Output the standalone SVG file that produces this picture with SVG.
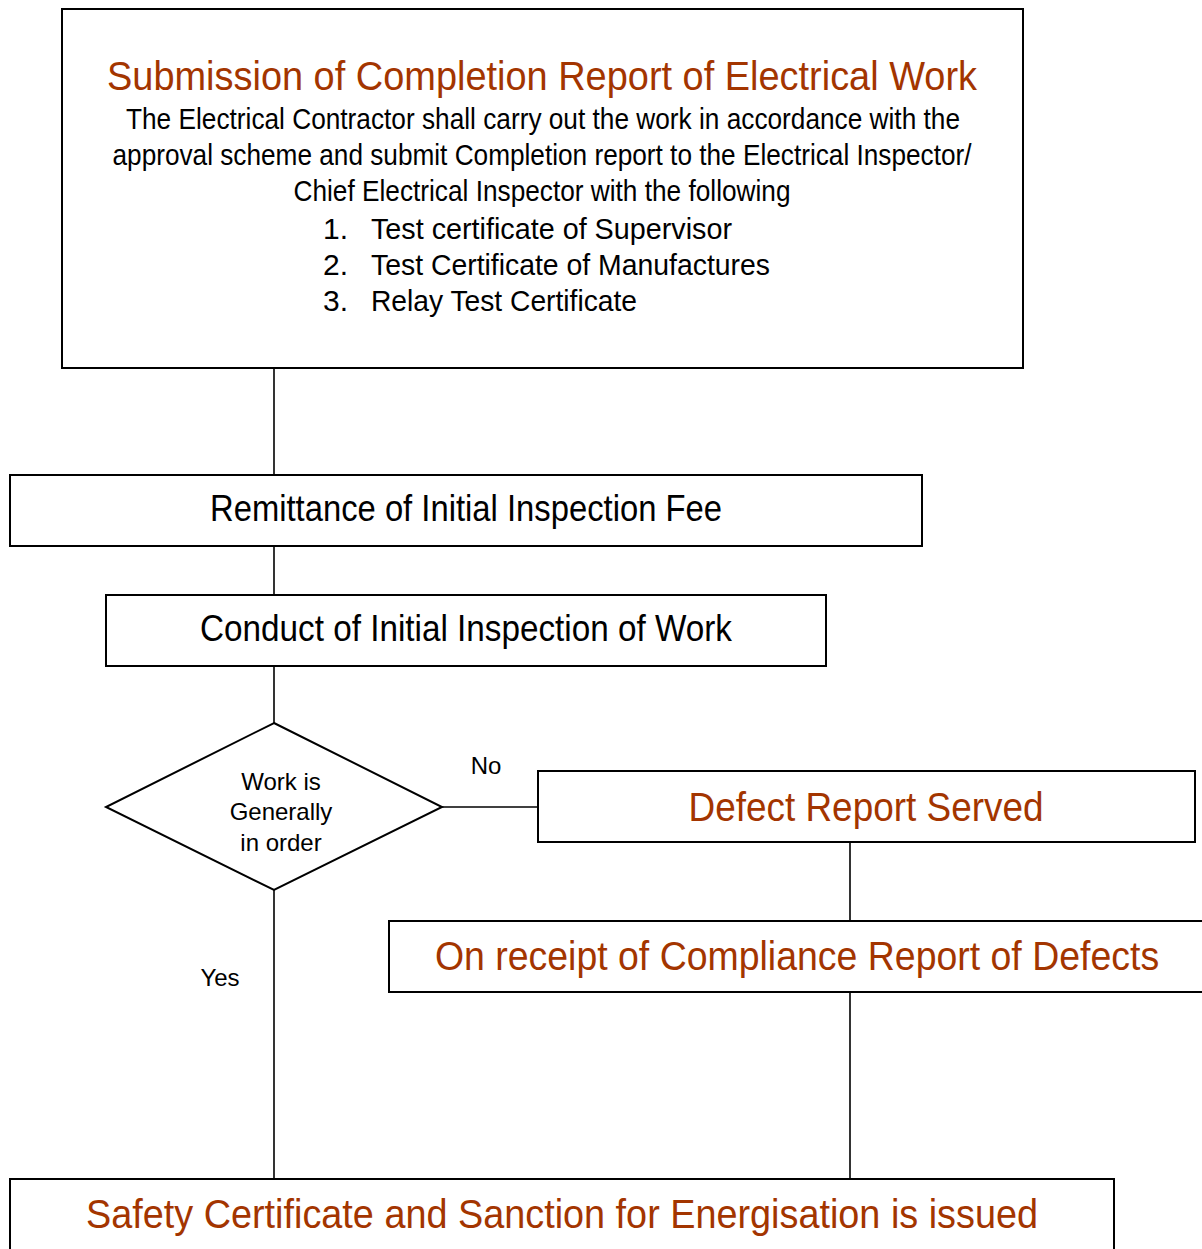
<svg xmlns="http://www.w3.org/2000/svg" width="1202" height="1249" viewBox="0 0 1202 1249">
<style>
.box{fill:#fff;stroke:#000;stroke-width:2}
.con{fill:none;stroke:#000;stroke-width:1.6}
text{font-family:"Liberation Sans Narrow","Arial Narrow","Liberation Sans",sans-serif;text-anchor:middle;fill:#000}
.hd{fill:#A33500;font-size:41px}
.bd{font-size:30px}
.lst{font-size:30px;text-anchor:start}
.bx{font-size:37px}
.dm{font-size:24px}
.lb{font-size:24px}
</style>
<rect width="1202" height="1249" fill="#fff"/>
<g id="connectors">
<line class="con" x1="274" y1="368" x2="274" y2="475"/>
<line class="con" x1="274" y1="546" x2="274" y2="595"/>
<line class="con" x1="274" y1="666" x2="274" y2="723"/>
<line class="con" x1="442" y1="807" x2="538" y2="807"/>
<line class="con" x1="850" y1="842" x2="850" y2="921"/>
<line class="con" x1="850" y1="992" x2="850" y2="1179"/>
<line class="con" x1="274" y1="890" x2="274" y2="1179"/>
<text class="lb" x="486" y="774">No</text>
<text class="lb" x="220" y="986">Yes</text>
</g>
<g id="submission">
<rect class="box" x="62" y="9" width="961" height="359"/>
<text class="hd" x="542" y="90" textLength="870" lengthAdjust="spacingAndGlyphs">Submission of Completion Report of Electrical Work</text>
<text class="bd" x="543" y="129" textLength="834" lengthAdjust="spacingAndGlyphs">The Electrical Contractor shall carry out the work in accordance with the</text>
<text class="bd" x="542" y="165" textLength="859" lengthAdjust="spacingAndGlyphs">approval scheme and submit Completion report to the Electrical Inspector/</text>
<text class="bd" x="542" y="201" textLength="497" lengthAdjust="spacingAndGlyphs">Chief Electrical Inspector with the following</text>
<text class="lst" x="323" y="239">1.</text>
<text class="lst" x="371" y="239" textLength="361" lengthAdjust="spacingAndGlyphs">Test certificate of Supervisor</text>
<text class="lst" x="323" y="275">2.</text>
<text class="lst" x="371" y="275" textLength="399" lengthAdjust="spacingAndGlyphs">Test Certificate of Manufactures</text>
<text class="lst" x="323" y="311">3.</text>
<text class="lst" x="371" y="311" textLength="266" lengthAdjust="spacingAndGlyphs">Relay Test Certificate</text>
</g>
<g id="remittance">
<rect class="box" x="10" y="475" width="912" height="71"/>
<text class="bx" x="466" y="521" textLength="512" lengthAdjust="spacingAndGlyphs">Remittance of Initial Inspection Fee</text>
</g>
<g id="conduct">
<rect class="box" x="106" y="595" width="720" height="71"/>
<text class="bx" x="466" y="641" textLength="532" lengthAdjust="spacingAndGlyphs">Conduct of Initial Inspection of Work</text>
</g>
<g id="decision">
<polygon class="box" points="274,723 442,807 274,890 106,807"/>
<text class="dm" x="281" y="790">Work is</text>
<text class="dm" x="281" y="820">Generally</text>
<text class="dm" x="281" y="851">in order</text>
</g>
<g id="defect">
<rect class="box" x="538" y="771" width="657" height="71"/>
<text class="hd" x="866" y="821" textLength="355" lengthAdjust="spacingAndGlyphs">Defect Report Served</text>
</g>
<g id="compliance">
<rect class="box" x="389" y="921" width="830" height="71"/>
<text class="hd" transform="translate(797,970) scale(0.85,1)" x="0" y="0" textLength="852" lengthAdjust="spacingAndGlyphs">On receipt of Compliance Report of Defects</text>
</g>
<g id="safety">
<rect class="box" x="10" y="1179" width="1104" height="90"/>
<text class="hd" x="562" y="1228" textLength="952" lengthAdjust="spacingAndGlyphs">Safety Certificate and Sanction for Energisation is issued</text>
</g>
</svg>
